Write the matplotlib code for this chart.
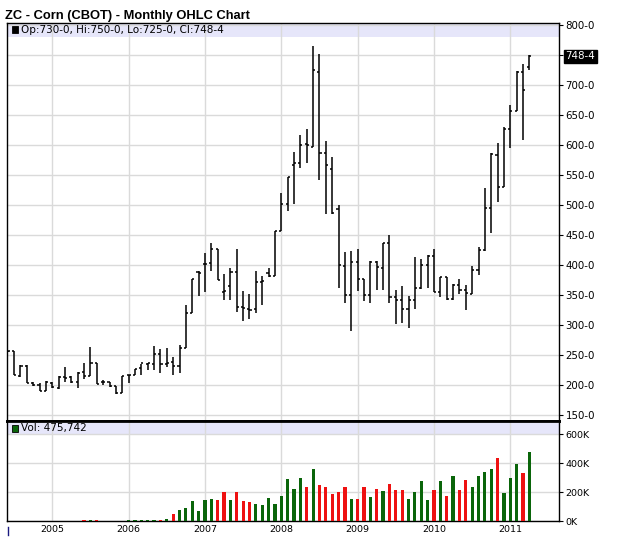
import matplotlib
matplotlib.use('Agg')
import matplotlib.pyplot as plt
import numpy as np
from matplotlib.patches import Rectangle
from matplotlib.lines import Line2D

# months counted from Jan 2005 (Jun 2004 .. Apr 2011)
months = np.arange(-7, 76)

opens = [258, 257, 215, 233, 204, 201, 191,
         204, 195, 214, 214, 205, 222, 215, 238, 205, 205, 199, 187,
         217, 218, 229, 235, 235, 252, 235, 239, 232, 263, 320, 389,
         403, 404, 427, 356, 366, 389, 331, 327, 327, 373, 387, 382,
         457, 503, 567, 570, 602, 597, 722, 588, 560, 494, 399, 350,
         406, 378, 350, 406, 395, 437, 348, 342, 327, 343, 363, 401,
         416, 356, 380, 344, 367, 359, 353, 392, 425, 495, 584, 530,
         627, 657, 722, 730]
highs = [258, 258, 234, 234, 206, 204, 207,
         206, 215, 231, 215, 222, 237, 264, 238, 209, 205, 199, 215,
         218, 228, 236, 238, 266, 260, 262, 248, 268, 334, 378, 391,
         420, 437, 427, 386, 395, 428, 357, 353, 391, 382, 395, 457,
         521, 548, 589, 617, 627, 766, 752, 608, 580, 501, 423, 424,
         428, 378, 407, 408, 437, 451, 359, 366, 349, 414, 410, 418,
         427, 380, 380, 369, 378, 367, 399, 430, 529, 588, 604, 630,
         667, 724, 736, 750]
lows = [255, 217, 214, 204, 199, 191, 191,
        195, 194, 206, 204, 196, 210, 215, 202, 200, 198, 185, 187,
        204, 217, 218, 226, 226, 221, 231, 217, 221, 263, 320, 349,
        356, 391, 376, 343, 343, 323, 308, 310, 320, 334, 381, 382,
        457, 491, 503, 562, 571, 597, 542, 485, 486, 363, 337, 290,
        358, 341, 337, 359, 359, 338, 303, 304, 296, 327, 360, 363,
        356, 348, 343, 343, 353, 325, 352, 384, 424, 454, 506, 530,
        595, 657, 609, 725]
closes = [257, 218, 233, 204, 201, 191, 206,
          197, 214, 213, 205, 221, 215, 238, 202, 205, 199, 187, 215,
          218, 228, 237, 238, 252, 235, 238, 232, 263, 320, 377, 388,
          403, 427, 376, 357, 389, 331, 329, 326, 373, 374, 382, 457,
          503, 548, 570, 601, 600, 726, 588, 567, 487, 400, 350, 405,
          378, 350, 406, 397, 437, 348, 342, 327, 343, 363, 401, 416,
          356, 380, 344, 368, 359, 354, 392, 425, 495, 585, 530, 627,
          657, 722, 693, 748.5]
volumes = [0, 0, 0, 0, 0, 0, 0,
           0, 0, 0, 0, 0, 7e3, 7e3, 7e3, 0, 0, 0, 0,
           8e3, 8e3, 8e3, 8e3, 8e3, 8e3, 16e3, 50e3, 78e3, 94e3, 140e3, 71e3,
           147e3, 154e3, 147e3, 202e3, 147e3, 202e3, 140e3, 133e3, 120e3, 113e3, 161e3, 120e3,
           175e3, 292e3, 223e3, 299e3, 237e3, 361e3, 251e3, 239e3, 189e3, 202e3, 239e3, 154e3,
           154e3, 239e3, 170e3, 223e3, 209e3, 257e3, 216e3, 216e3, 154e3, 202e3, 278e3, 147e3,
           216e3, 278e3, 177e3, 313e3, 216e3, 285e3, 237e3, 313e3, 340e3, 361e3, 439e3, 195e3,
           299e3, 395e3, 333e3, 475742]

year_pos = [0, 12, 24, 36, 48, 60, 72]
year_labels = ['2005', '2006', '2007', '2008', '2009', '2010', '2011']
price_ticks = list(range(150, 801, 50))
vol_ticks = [0, 200e3, 400e3, 600e3]
vol_labels = ['0K', '200K', '400K', '600K']

W, H = 629, 539
LAV = '#e6e6fa'
GRID = '#dadada'
GREEN = '#0a650a'
RED = '#ee1111'


def box(l, t, r, b):
    return [l / W, 1 - b / H, (r - l) / W, (b - t) / H]


fig = plt.figure(figsize=(W / 100, H / 100), dpi=100)
ax = fig.add_axes(box(7.3, 22.5, 559.3, 420.7))
axv = fig.add_axes(box(7.3, 420.7, 559.3, 521.3), sharex=ax)

# price panel
o = np.array(opens); h = np.array(highs); l = np.array(lows); c = np.array(closes)
ax.vlines(months, l, h, color='black', lw=1.1, zorder=3)
ax.hlines(o, months - 0.33, months, color='black', lw=1.1, zorder=3)
ax.hlines(c, months, months + 0.33, color='black', lw=1.1, zorder=3)
ax.set_xlim(-7.07, 79.7)
ax.set_ylim(141, 805)
ax.set_axisbelow(True)
ax.axhspan(781.5, 805, color=LAV, zorder=0, lw=0)
ax.set_xticks(year_pos)
ax.set_yticks(price_ticks)
ax.set_yticklabels([f'{p}-0' for p in price_ticks])
ax.yaxis.tick_right()
ax.tick_params(axis='y', direction='out', length=3, width=0.8, pad=1.5, labelsize=7.4)
ax.tick_params(axis='x', length=0, labelbottom=False)
ax.grid(True, color=GRID, lw=1)
for s in ax.spines.values():
    s.set_color('black')
    s.set_linewidth(1)
ax.spines['bottom'].set_linewidth(2)
ax.annotate('748-4', xy=(1, 748.5), xycoords=('axes fraction', 'data'),
            xytext=(4.5, 0), textcoords='offset points', ha='left', va='center',
            fontsize=7.4, color='white',
            bbox=dict(boxstyle='square,pad=0.12', fc='black', ec='black'))

# volume panel
up = [True] + [closes[i] >= closes[i - 1] for i in range(1, len(closes))]
bar_colors = [GREEN if u else RED for u in up]
axv.bar(months, volumes, width=0.5, color=bar_colors, linewidth=0, zorder=3)
axv.set_ylim(0, 694e3)
axv.set_axisbelow(True)
axv.axhspan(600e3, 680e3, color=LAV, zorder=0, lw=0)
axv.set_yticks(vol_ticks)
axv.set_yticklabels(vol_labels)
axv.yaxis.tick_right()
axv.tick_params(axis='y', direction='out', length=3, width=0.8, pad=1.5, labelsize=6.8)
axv.set_xticks(year_pos)
axv.set_xticklabels(year_labels)
axv.tick_params(axis='x', length=0, pad=3, labelsize=6.8)
axv.grid(True, color=GRID, lw=1)
for s in axv.spines.values():
    s.set_color('black')
    s.set_linewidth(1)
axv.spines['top'].set_linewidth(2)

# title and panel headers
fig.text(5 / W, 1 - 18.5 / H, 'ZC - Corn (CBOT) - Monthly OHLC Chart',
         fontsize=9.3, fontweight='bold', family='Liberation Sans', va='baseline')
fig.add_artist(Rectangle((11.7 / W, 1 - 33 / H), 6.6 / W, 7 / H,
                         transform=fig.transFigure, fc='black', ec='black', lw=0.6))
fig.text(21 / W, 1 - 29.7 / H, 'Op:730-0, Hi:750-0, Lo:725-0, Cl:748-4',
         fontsize=7.5, va='center')
fig.add_artist(Rectangle((11.7 / W, 1 - 431.5 / H), 6.6 / W, 7 / H,
                         transform=fig.transFigure, fc=GREEN, ec='black', lw=0.6))
fig.text(21 / W, 1 - 428 / H, 'Vol: 475,742', fontsize=7.5, va='center')
fig.add_artist(Line2D([7.5 / W, 7.5 / W], [1 - 527 / H, 1 - 534.5 / H],
                      transform=fig.transFigure, color='#1a1a80', lw=1))

fig.savefig('out.png', dpi=100)
